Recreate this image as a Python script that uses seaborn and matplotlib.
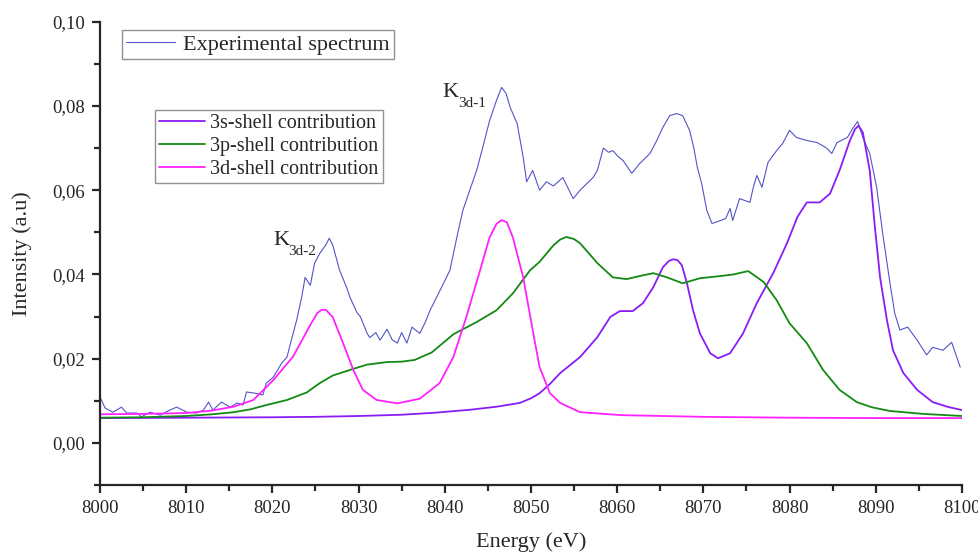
import numpy as np
import pandas as pd
import matplotlib
matplotlib.use("Agg")
import matplotlib.pyplot as plt
from matplotlib.ticker import MultipleLocator, FixedLocator, FixedFormatter
import seaborn as sns

# ---------------- data ----------------
exp_energy = [8000.0, 8000.6, 8001.5, 8002.5, 8003.1, 8004.3, 8004.8, 8005.8, 8007.0, 8008.1,
              8008.9, 8010.1, 8011.2, 8012.0, 8012.6, 8013.1, 8014.1, 8015.1, 8015.9, 8016.6,
              8017.0, 8018.0, 8018.9, 8019.3, 8020.1, 8021.1, 8021.7, 8022.2, 8022.8, 8023.4,
              8023.8, 8024.4, 8024.9, 8025.5, 8026.2, 8026.6, 8027.0, 8027.8, 8028.6, 8029.0,
              8029.8, 8030.2, 8031.0, 8031.3, 8032.0, 8032.5, 8033.3, 8033.9, 8034.5, 8035.0,
              8035.6, 8036.2, 8037.1, 8037.7, 8038.3, 8039.4, 8040.6, 8041.4, 8042.1, 8042.9,
              8043.7, 8044.4, 8045.2, 8046.0, 8046.6, 8047.1, 8047.6, 8048.4, 8049.1, 8049.5,
              8050.2, 8051.0, 8051.8, 8052.6, 8053.7, 8054.9, 8055.7, 8056.5, 8057.2, 8057.7,
              8058.4, 8059.0, 8059.5, 8060.1, 8060.7, 8061.7, 8062.6, 8063.8, 8064.6, 8065.3,
              8066.1, 8066.9, 8067.6, 8068.4, 8068.9, 8069.3, 8069.8, 8070.4, 8071.0, 8072.0,
              8072.6, 8073.1, 8073.4, 8074.2, 8075.4, 8075.8, 8076.2, 8076.8, 8077.5, 8078.5,
              8079.2, 8080.0, 8080.8, 8082.0, 8083.2, 8084.3, 8084.9, 8085.5, 8086.7, 8087.4,
              8087.9, 8088.5, 8089.3, 8090.1, 8090.8, 8091.6, 8092.2, 8092.8, 8093.7, 8094.8,
              8095.9, 8096.6, 8097.8, 8098.8, 8099.8]
exp_intensity = [0.0109, 0.0083, 0.0073, 0.0085, 0.0071, 0.0071, 0.0062, 0.0073, 0.0066, 0.0078,
                 0.0085, 0.0073, 0.0071, 0.0078, 0.0097, 0.0078, 0.0097, 0.0085, 0.0095, 0.0090,
                 0.0121, 0.0118, 0.0114, 0.0142, 0.0156, 0.0190, 0.0204, 0.0244, 0.0290, 0.0346,
                 0.0393, 0.0374, 0.0427, 0.0450, 0.0470, 0.0486, 0.0470, 0.0410, 0.0370, 0.0346,
                 0.0310, 0.0300, 0.0260, 0.0250, 0.0262, 0.0244, 0.0270, 0.0245, 0.0237, 0.0262,
                 0.0237, 0.0275, 0.0260, 0.0285, 0.0315, 0.0360, 0.0410, 0.0488, 0.0552, 0.0600,
                 0.0647, 0.0701, 0.0765, 0.0813, 0.0844, 0.0830, 0.0796, 0.0758, 0.0678, 0.0620,
                 0.0647, 0.0600, 0.0620, 0.0610, 0.0630, 0.0580, 0.0600, 0.0616, 0.0630, 0.0647,
                 0.0700, 0.0690, 0.0694, 0.0680, 0.0670, 0.0640, 0.0663, 0.0687, 0.0718, 0.0749,
                 0.0777, 0.0782, 0.0777, 0.0742, 0.0700, 0.0654, 0.0616, 0.0552, 0.0521, 0.0528,
                 0.0533, 0.0557, 0.0528, 0.0580, 0.0571, 0.0607, 0.0635, 0.0607, 0.0666, 0.0694,
                 0.0711, 0.0742, 0.0725, 0.0718, 0.0713, 0.0700, 0.0687, 0.0713, 0.0725, 0.0749,
                 0.0763, 0.0725, 0.0687, 0.0607, 0.0498, 0.0386, 0.0308, 0.0268, 0.0275, 0.0244,
                 0.0209, 0.0227, 0.0220, 0.0239, 0.0180]

s_energy = [8000, 8010, 8020, 8025, 8030, 8035, 8039, 8043, 8046, 8048.7,
            8050, 8051, 8052.2, 8053.4, 8055.7, 8057.7, 8059.2, 8060.3, 8061.8, 8063.0,
            8064.2, 8065.3, 8066.0, 8066.5, 8067.0, 8067.5, 8068.1, 8068.8, 8069.6, 8070.8,
            8071.7, 8073.1, 8074.6, 8076.2, 8078.1, 8079.7, 8080.9, 8082.0, 8083.5, 8084.7,
            8085.8, 8087.0, 8087.6, 8088.0, 8088.5, 8089.3, 8089.9, 8090.5, 8091.3, 8092.0,
            8093.2, 8094.8, 8096.6, 8098.3, 8100]
s_intensity = [0.0059, 0.0060, 0.0061, 0.0062, 0.0064, 0.0067, 0.0072, 0.0079, 0.0086, 0.0095,
               0.0106, 0.0118, 0.0140, 0.0166, 0.0204, 0.0251, 0.0299, 0.0313, 0.0313, 0.0332,
               0.0370, 0.0417, 0.0432, 0.0436, 0.0434, 0.0422, 0.0379, 0.0315, 0.0260, 0.0213,
               0.0201, 0.0213, 0.0260, 0.0332, 0.0403, 0.0474, 0.0536, 0.0571, 0.0571, 0.0592,
               0.0647, 0.0718, 0.0745, 0.0753, 0.0737, 0.0647, 0.0512, 0.0393, 0.0291, 0.0220,
               0.0166, 0.0126, 0.0097, 0.0086, 0.0078]

p_energy = [8000, 8005, 8010, 8013, 8015.5, 8017.5, 8019.3, 8021.7, 8024.0, 8025.5,
            8027, 8029.4, 8031, 8033.3, 8035, 8036.5, 8038.5, 8041, 8043.7, 8046,
            8047.9, 8049.9, 8051, 8052.6, 8053.4, 8054.1, 8055.0, 8055.7, 8057.7, 8059.5,
            8061.1, 8063.0, 8064.2, 8065.8, 8067.6, 8069.6, 8071.9, 8073.5, 8075.2, 8077.0,
            8078.5, 8080.0, 8082.0, 8083.9, 8085.8, 8087.8, 8089.5, 8091.6, 8095.5, 8100]
p_intensity = [0.0060, 0.0061, 0.0064, 0.0068, 0.0073, 0.0080, 0.0090, 0.0102, 0.0120, 0.0142,
               0.0160, 0.0176, 0.0186, 0.0192, 0.0193, 0.0197, 0.0215, 0.0258, 0.0287, 0.0315,
               0.0355, 0.0410, 0.0430, 0.0469, 0.0483, 0.0489, 0.0484, 0.0474, 0.0427, 0.0393,
               0.0389, 0.0398, 0.0403, 0.0393, 0.0379, 0.0391, 0.0396, 0.0400, 0.0408, 0.0382,
               0.0339, 0.0284, 0.0237, 0.0173, 0.0126, 0.0097, 0.0085, 0.0076, 0.0069, 0.0064]

d_energy = [8000, 8005, 8010, 8013, 8015.5, 8017.8, 8020.1, 8022.4, 8024.4, 8025.2,
            8025.7, 8026.2, 8027.0, 8028.2, 8029.4, 8030.5, 8032.1, 8034.5, 8037.1, 8039.4,
            8041.0, 8042.5, 8044.1, 8045.2, 8046.0, 8046.6, 8047.2, 8047.9, 8049.1, 8050.2,
            8051.0, 8052.2, 8053.4, 8055.7, 8060.5, 8070, 8080, 8090, 8100]
d_intensity = [0.0068, 0.0069, 0.0071, 0.0077, 0.0086, 0.0102, 0.0149, 0.0205, 0.0280, 0.0308,
               0.0316, 0.0316, 0.0299, 0.0237, 0.0173, 0.0126, 0.0102, 0.0094, 0.0105, 0.0142,
               0.0204, 0.0299, 0.0410, 0.0488, 0.0520, 0.0529, 0.0524, 0.0488, 0.0393, 0.0268,
               0.0180, 0.0118, 0.0095, 0.0073, 0.0066, 0.0062, 0.0060, 0.0059, 0.0059]

x_ticks = [8000, 8010, 8020, 8030, 8040, 8050, 8060, 8070, 8080, 8090, 8100]
y_ticks = [0.00, 0.02, 0.04, 0.06, 0.08, 0.10]
y_ticklabels = ["0,00", "0,02", "0,04", "0,06", "0,08", "0,10"]

# ---------------- style ----------------
sns.set_style("ticks")
plt.rcParams["font.family"] = ["Liberation Serif", "DejaVu Serif"]
plt.rcParams["axes.linewidth"] = 1.6
plt.rcParams["xtick.major.width"] = 1.6
plt.rcParams["ytick.major.width"] = 1.6
plt.rcParams["xtick.minor.width"] = 1.6
plt.rcParams["ytick.minor.width"] = 1.6
plt.rcParams["xtick.direction"] = "out"
plt.rcParams["ytick.direction"] = "out"

fig = plt.figure(figsize=(9.79, 5.53), dpi=100)
ax = fig.add_axes([0.1021, 0.1228, 0.8805, 0.8380])

exp_df = pd.DataFrame({"E": exp_energy, "I": exp_intensity})
s_df = pd.DataFrame({"E": s_energy, "I": s_intensity})
p_df = pd.DataFrame({"E": p_energy, "I": p_intensity})
d_df = pd.DataFrame({"E": d_energy, "I": d_intensity})

sns.lineplot(data=exp_df, x="E", y="I", ax=ax, color="#5454c8", lw=0.8,
             estimator=None, sort=False)
sns.lineplot(data=s_df, x="E", y="I", ax=ax, color="#8a1cf5", lw=1.3, estimator=None, sort=False)
sns.lineplot(data=p_df, x="E", y="I", ax=ax, color="#138a13", lw=1.3, estimator=None, sort=False)
sns.lineplot(data=d_df, x="E", y="I", ax=ax, color="#ff22ff", lw=1.3, estimator=None, sort=False)
lines = ax.lines

ax.set_xlim(8000, 8100)
ax.set_ylim(-0.01, 0.10)
ax.xaxis.set_major_locator(FixedLocator(x_ticks))
ax.xaxis.set_minor_locator(MultipleLocator(5))
ax.yaxis.set_major_locator(FixedLocator(y_ticks))
ax.yaxis.set_major_formatter(FixedFormatter(y_ticklabels))
ax.yaxis.set_minor_locator(MultipleLocator(0.01))
ax.tick_params(which="major", length=6, labelsize=13.5, pad=5)
ax.tick_params(which="minor", length=4)
sns.despine(ax=ax)

ax.set_xlabel("Energy (eV)", fontsize=16, labelpad=11)
ax.set_ylabel("Intensity (a.u)", fontsize=16, labelpad=14)

# legends
leg1 = fig.legend([lines[0]], ["Experimental spectrum"], loc="upper left",
                  bbox_to_anchor=(0.1246, 0.9458), fontsize=16, frameon=True,
                  fancybox=False, edgecolor="#777777", borderaxespad=0,
                  handlelength=2.2, handletextpad=0.35, borderpad=0.2)
leg1.get_frame().set_linewidth(1.0)
leg2 = fig.legend(lines[1:4], ["3s-shell contribution", "3p-shell contribution",
                               "3d-shell contribution"], loc="upper left",
                  bbox_to_anchor=(0.1583, 0.801), fontsize=14.5, frameon=True,
                  fancybox=False, edgecolor="#777777", borderaxespad=0,
                  handlelength=2.3, handletextpad=0.25, borderpad=0.2, labelspacing=0.18,
                  handleheight=0.7)
leg2.get_frame().set_linewidth(1.0)

# peak annotations
ax.text(8021.0, 0.0481, "K", fontsize=16, ha="center", va="center")
ax.annotate("3d-2", xy=(8021.0, 0.0481), xytext=(5.5, -8), textcoords="offset points",
            fontsize=11, ha="left", va="center")
ax.text(8040.7, 0.0831, "K", fontsize=16, ha="center", va="center")
ax.annotate("3d-1", xy=(8040.7, 0.0831), xytext=(5.5, -8), textcoords="offset points",
            fontsize=11, ha="left", va="center")

fig.savefig("out.png", dpi=100)
